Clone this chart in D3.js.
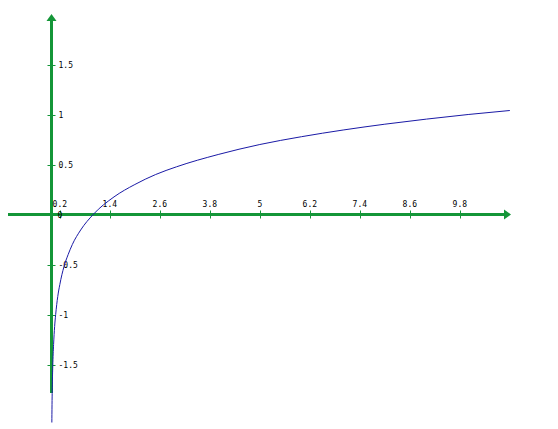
<!DOCTYPE html>
<html><head><meta charset="utf-8">
<script src="https://cdn.jsdelivr.net/npm/d3@7"></script>
<style>body{margin:0;background:#fff}svg{display:block}text{font-family:"DejaVu Sans Mono","Liberation Mono",monospace;font-size:8px;fill:#000}</style>
</head><body><svg id="c" width="558" height="429"></svg>
<script>
const xTicks = [0.2, 1.4, 2.6, 3.8, 5, 6.2, 7.4, 8.6, 9.8];
const yTicks = [-1.5, -1, -0.5, 0.5, 1, 1.5];
const curveX = [0.0083, 0.01, 0.02, 0.03, 0.05, 0.075, 0.1, 0.15, 0.2, 0.3, 0.4, 0.5, 0.7, 1.0, 1.5, 2, 2.5, 3, 4, 5, 6, 7, 8, 9, 10, 11];
const curveY = [-2.08, -2.0, -1.7, -1.52, -1.3, -1.12, -1.0, -0.82, -0.7, -0.52, -0.4, -0.3, -0.155, 0, 0.176, 0.3, 0.4, 0.477, 0.6, 0.7, 0.778, 0.845, 0.903, 0.954, 1.0, 1.04];

const svg = d3.select("#c");
const x = d3.scaleLinear().domain([0, 12]).range([51.5, 51.5 + 12 * 50 / 1.2]);
const y = d3.scaleLinear().domain([0, 1]).range([214.5, 114.5]);
const green = "#149638";

// x axis
svg.append("line").attr("x1", 8).attr("x2", 505).attr("y1", y(0)).attr("y2", y(0))
  .attr("stroke", green).attr("stroke-width", 3);
svg.append("path").attr("d", `M504,${y(0)-5}L511,${y(0)}L504,${y(0)+5}Z`).attr("fill", green);
// y axis
svg.append("line").attr("x1", x(0)).attr("x2", x(0)).attr("y1", 20).attr("y2", 393)
  .attr("stroke", green).attr("stroke-width", 3);
svg.append("path").attr("d", `M${x(0)-5},21L${x(0)},14L${x(0)+5},21Z`).attr("fill", green);

// x ticks
const xg = svg.append("g");
xTicks.forEach(t => {
  xg.append("line").attr("x1", Math.round(x(t)) + 0.5).attr("x2", Math.round(x(t)) + 0.5)
    .attr("y1", y(0) - 4).attr("y2", y(0) + 4).attr("stroke", green).attr("stroke-width", 1);
  xg.append("text").attr("x", x(t)).attr("y", y(0) - 8).attr("text-anchor", "middle").text(t);
});
svg.append("text").attr("x", x(0.2)).attr("y", y(0) + 3).attr("text-anchor", "middle").text("0");

// y ticks
const yg = svg.append("g");
yTicks.forEach(t => {
  yg.append("line").attr("x1", x(0) - 4).attr("x2", x(0) + 4)
    .attr("y1", Math.round(y(t)) + 0.5).attr("y2", Math.round(y(t)) + 0.5)
    .attr("stroke", green).attr("stroke-width", 1);
  yg.append("text").attr("x", x(0) + 7).attr("y", y(t) + 3).text(t);
});

// curve
const pts = curveX.map((v, i) => [v, curveY[i]]);
svg.append("path").datum(pts)
  .attr("d", d3.line().x(d => x(d[0])).y(d => y(d[1])).curve(d3.curveMonotoneX))
  .attr("fill", "none").attr("stroke", "#1a1aa6").attr("stroke-width", 1);
</script></body></html>
